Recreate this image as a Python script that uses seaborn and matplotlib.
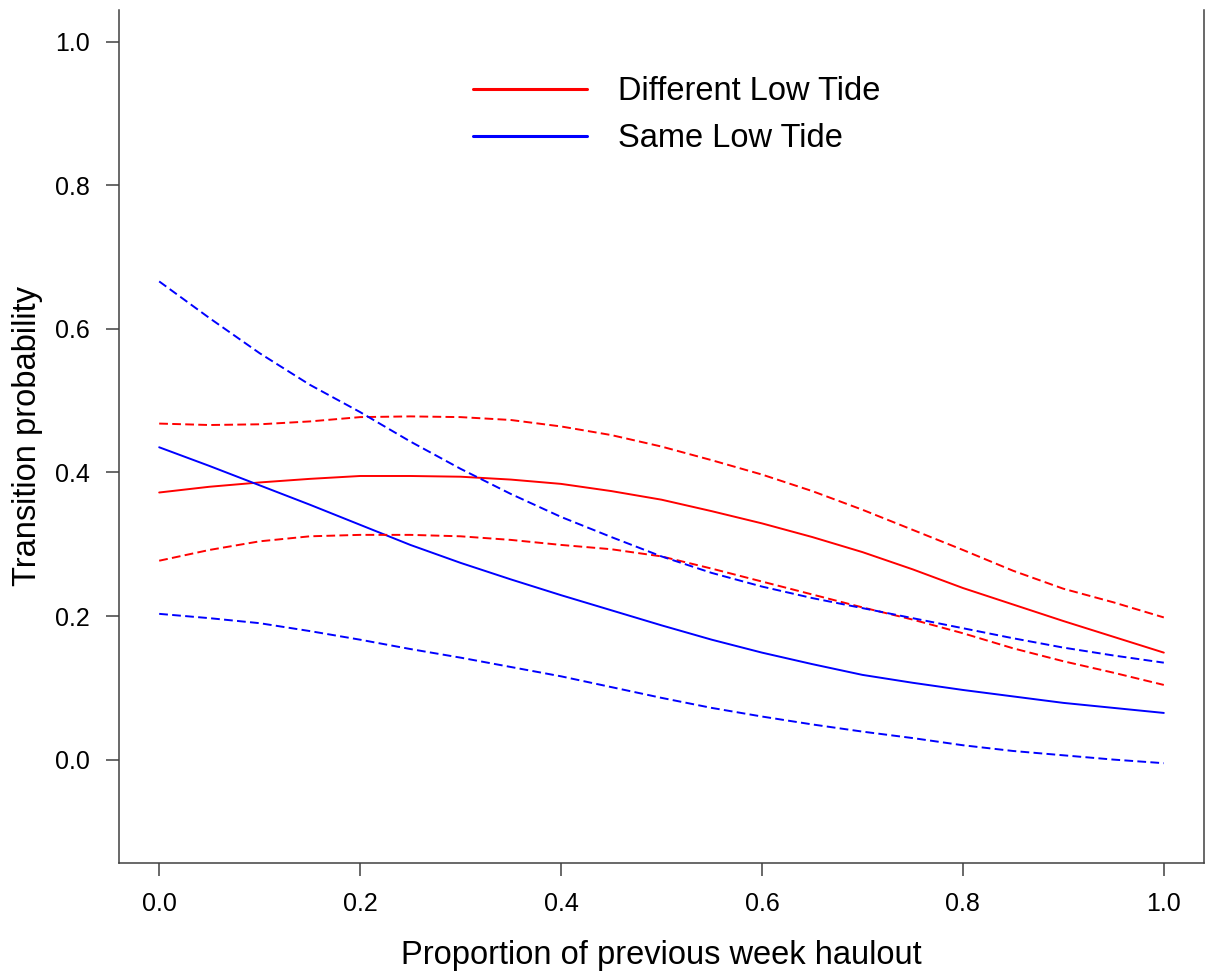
import matplotlib
matplotlib.use("Agg")
import matplotlib.pyplot as plt
import pandas as pd
import seaborn as sns

# proportion of previous week haulout
x = [0.00, 0.05, 0.10, 0.15, 0.20, 0.25, 0.30, 0.35, 0.40, 0.45, 0.50,
     0.55, 0.60, 0.65, 0.70, 0.75, 0.80, 0.85, 0.90, 0.95, 1.00]

# Different Low Tide: fit and confidence limits
diff_fit = [0.372, 0.380, 0.386, 0.391, 0.395, 0.395, 0.394, 0.390, 0.384, 0.374, 0.362,
            0.346, 0.329, 0.310, 0.289, 0.265, 0.239, 0.216, 0.193, 0.171, 0.149]
diff_upper = [0.468, 0.466, 0.467, 0.471, 0.477, 0.478, 0.477, 0.473, 0.464, 0.452, 0.436,
              0.417, 0.397, 0.374, 0.348, 0.320, 0.292, 0.263, 0.238, 0.219, 0.198]
diff_lower = [0.277, 0.292, 0.304, 0.311, 0.313, 0.313, 0.311, 0.306, 0.299, 0.293, 0.283,
              0.266, 0.248, 0.230, 0.212, 0.195, 0.176, 0.155, 0.137, 0.121, 0.104]

# Same Low Tide: fit and confidence limits
same_fit = [0.435, 0.409, 0.382, 0.355, 0.327, 0.299, 0.274, 0.251, 0.229, 0.208, 0.187,
            0.167, 0.149, 0.133, 0.118, 0.107, 0.097, 0.088, 0.079, 0.072, 0.065]
same_upper = [0.666, 0.615, 0.566, 0.522, 0.484, 0.443, 0.405, 0.370, 0.338, 0.310, 0.283,
              0.260, 0.241, 0.225, 0.211, 0.197, 0.183, 0.169, 0.156, 0.145, 0.135]
same_lower = [0.203, 0.197, 0.190, 0.179, 0.167, 0.154, 0.142, 0.129, 0.116, 0.101, 0.086,
              0.072, 0.060, 0.049, 0.039, 0.030, 0.020, 0.012, 0.006, 0.000, -0.005]

sns.set_style("ticks")
plt.rcParams['font.family'] = ['Liberation Sans', 'DejaVu Sans']

W, H = 1206, 974
fig = plt.figure(figsize=(W / 100, H / 100), dpi=100)
ax = fig.add_axes([119 / W, (H - 863) / H, (1204 - 119) / W, (863 - 10) / H])

dash = (0, (4.5, 2.2))
lw = 1.4

series = [
    (diff_fit, "red", "-", "Different Low Tide"),
    (same_fit, "blue", "-", "Same Low Tide"),
    (diff_upper, "red", dash, None),
    (diff_lower, "red", dash, None),
    (same_upper, "blue", dash, None),
    (same_lower, "blue", dash, None),
]
for vals, col, ls, lab in series:
    df = pd.DataFrame({"x": x, "y": vals})
    sns.lineplot(data=df, x="x", y="y", color=col, linestyle=ls, lw=lw,
                 errorbar=None, ax=ax, label=lab, legend=False)

ax.set_xlim(-0.04, 1.04)
ax.set_ylim(-0.144, 1.044)
ax.set_xticks([0.0, 0.2, 0.4, 0.6, 0.8, 1.0])
ax.set_xticklabels(["0.0", "0.2", "0.4", "0.6", "0.8", "1.0"])
ax.set_yticks([0.0, 0.2, 0.4, 0.6, 0.8, 1.0])
ax.set_yticklabels(["0.0", "0.2", "0.4", "0.6", "0.8", "1.0"])
ax.set_xlabel("")
ax.set_ylabel("")

spine_col = "#404040"
for side in ["left", "bottom", "right"]:
    ax.spines[side].set_color(spine_col)
    ax.spines[side].set_linewidth(1.1)
ax.spines["top"].set_visible(False)
ax.tick_params(axis="both", length=9.4, width=1.1, color=spine_col,
               labelsize=18, pad=11.5, labelcolor="black")

fig.text(661 / W, 1 - 964 / H, "Proportion of previous week haulout",
         ha="center", va="baseline", fontsize=23.5, color="black")
fig.text(28 / W, 1 - 436 / H, "Transition probability", rotation=90,
         ha="center", va="center", fontsize=23.5, color="black")

handles = ax.get_lines()[:2]
leg = ax.legend(handles=handles, labels=["Different Low Tide", "Same Low Tide"],
                loc="upper left", bbox_to_anchor=(473 / W, 1 - 76 / H),
                bbox_transform=fig.transFigure, frameon=False, fontsize=23.5,
                borderpad=0, borderaxespad=0, handlelength=3.5,
                handletextpad=0.95, labelspacing=0.5)
for t in leg.get_texts():
    t.set_color("black")
for h in leg.legend_handles:
    h.set_linewidth(2.2)

fig.savefig("out.png", dpi=100)
